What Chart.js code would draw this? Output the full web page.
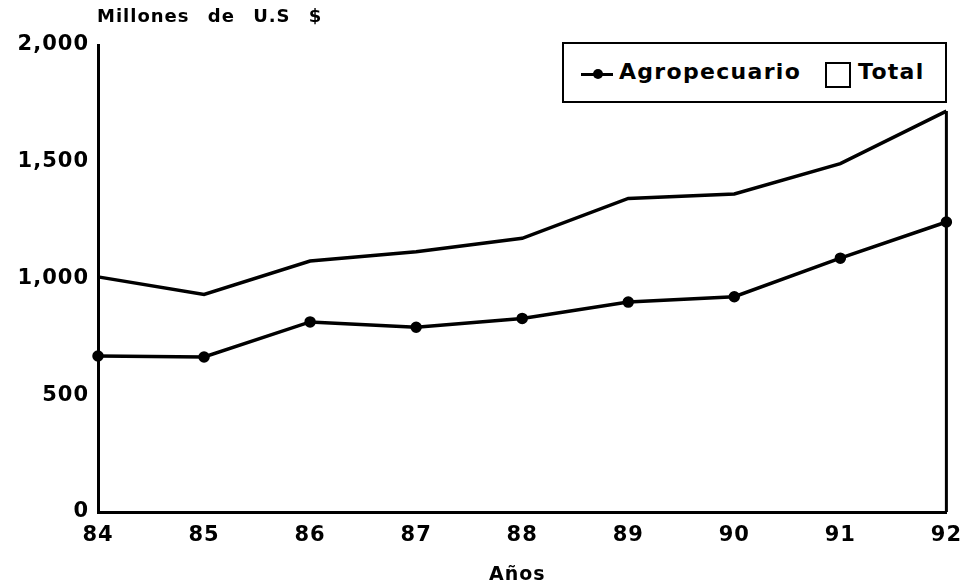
<!DOCTYPE html>
<html>
<head>
<meta charset="utf-8">
<script src="https://cdn.jsdelivr.net/npm/chart.js@4.4.1/dist/chart.umd.min.js"></script>
<style>
  html, body { margin: 0; padding: 0; background: #fff; }
  #wrap { position: relative; width: 972px; height: 586px; font-family: "DejaVu Sans", sans-serif; font-weight: bold; color: #000; }
  canvas { position: absolute; left: 0; top: 0; }
  .txt { position: absolute; white-space: nowrap; }
  #ytitle { left: 97px; top: 5px; font-size: 18px; word-spacing: 11px; letter-spacing: 1px; }
  #xtitle { left: 489px; top: 562px; font-size: 19px; letter-spacing: 1px; }
  #legend { position: absolute; left: 562px; top: 42px; width: 381px; height: 57px; border: 2px solid #000; background: #fff; font-size: 22px; letter-spacing: 1.3px; }
  #legend .mk { position: absolute; left: 17px; top: 29px; width: 32px; height: 3px; background: #000; }
  #legend .dot { position: absolute; left: 29px; top: 25px; width: 10px; height: 10px; border-radius: 50%; background: #000; }
  #legend .box { position: absolute; left: 261px; top: 18px; width: 22px; height: 22px; border: 2px solid #000; }
</style>
</head>
<body>
<div id="wrap">
  <canvas id="chart" width="972" height="586"></canvas>
  <div class="txt" id="ytitle">Millones de U.S $</div>
  <div class="txt" id="xtitle">Años</div>
  <div id="legend">
    <div class="mk"></div><div class="dot"></div>
    <div class="txt" style="left:55px; top:15px;">Agropecuario</div>
    <div class="box"></div>
    <div class="txt" style="left:294px; top:15px;">Total</div>
  </div>
</div>
<script>
// Data
const years = ['84', '85', '86', '87', '88', '89', '90', '91', '92'];
const agropecuario = [668, 664, 814, 791, 829, 899, 922, 1087, 1242];
const total = [1007, 932, 1075, 1115, 1172, 1343, 1362, 1492, 1717];
const yTicks = [0, 500, 1000, 1500, 2000];

// closes the Total area on the right side, and widens tick lettering a bit
const rightEdge = {
    id: 'rightEdge',
    beforeDraw(chart) {
        chart.ctx.letterSpacing = '1px';
    },
    afterDatasetsDraw(chart) {
        const x = chart.scales.x;
        const y = chart.scales.y;
        const last = total.length - 1;
        const ctx = chart.ctx;
        ctx.save();
        ctx.strokeStyle = '#000';
        ctx.lineWidth = 3;
        ctx.beginPath();
        ctx.moveTo(x.getPixelForValue(last), y.getPixelForValue(total[last]));
        ctx.lineTo(x.getPixelForValue(last), y.getPixelForValue(0));
        ctx.stroke();
        ctx.restore();
    }
};

new Chart(document.getElementById('chart'), {
    type: 'line',
    data: {
        labels: years,
        datasets: [
            {
                label: 'Total',
                data: total,
                borderColor: '#000',
                borderWidth: 3.5,
                pointRadius: 0,
                tension: 0
            },
            {
                label: 'Agropecuario',
                data: agropecuario,
                borderColor: '#000',
                backgroundColor: '#000',
                borderWidth: 3.5,
                pointRadius: 4,
                tension: 0
            }
        ]
    },
    options: {
        responsive: false,
        animation: false,
        layout: { padding: { left: 0, right: 25, top: 45, bottom: 0 } },
        plugins: { legend: { display: false }, tooltip: { enabled: false } },
        scales: {
            x: {
                offset: false,
                grid: { display: false, drawTicks: false },
                border: { color: '#000', width: 3 },
                ticks: {
                    color: '#000',
                    padding: 11,
                    maxRotation: 0,
                    autoSkip: false,
                    font: { family: 'DejaVu Sans', weight: 'bold', size: 21 }
                },
                afterFit: s => { s.height = 74; }
            },
            y: {
                min: 0,
                max: 2000,
                afterBuildTicks: s => { s.ticks = yTicks.map(v => ({ value: v })); },
                grid: { display: false, drawTicks: false },
                border: { color: '#000', width: 3 },
                ticks: {
                    color: '#000',
                    padding: 9,
                    callback: v => v.toLocaleString('en-US'),
                    font: { family: 'DejaVu Sans', weight: 'bold', size: 21 }
                },
                afterFit: s => { s.width = 98; }
            }
        }
    },
    plugins: [rightEdge]
});
</script>
</body>
</html>
